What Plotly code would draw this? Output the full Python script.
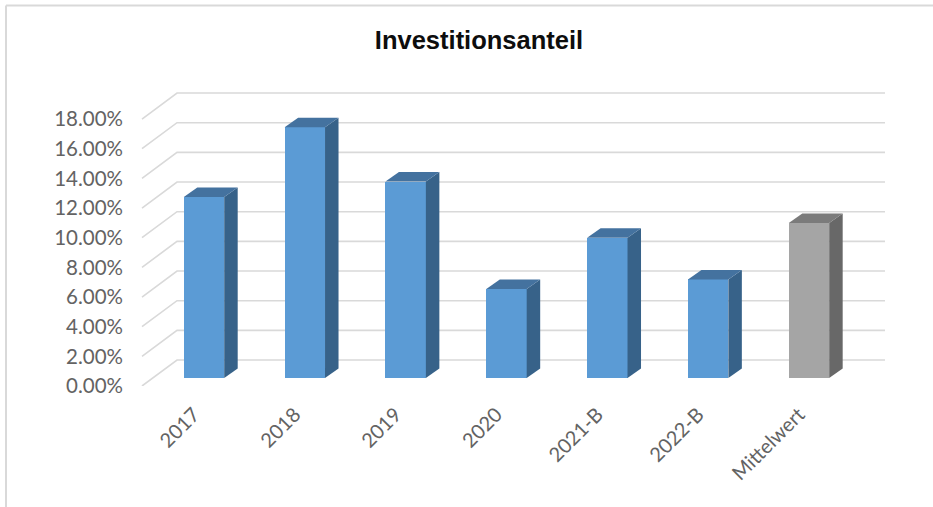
import plotly.graph_objects as go

categories = ["2017", "2018", "2019", "2020", "2021-B", "2022-B", "Mittelwert"]
values = [12.2, 16.9, 13.25, 6.0, 9.45, 6.65, 10.45]
y_ticks = [0, 2, 4, 6, 8, 10, 12, 14, 16, 18]
y_tick_labels = ["0.00%", "2.00%", "4.00%", "6.00%", "8.00%", "10.00%", "12.00%", "14.00%", "16.00%", "18.00%"]
front_colors = ["#5B9BD5"] * 6 + ["#A5A5A5"]
side_colors = ["#376289"] * 6 + ["#686868"]
top_colors = ["#44729F"] * 6 + ["#7B7B7B"]

W, H = 933, 507
PX_PER_CAT = 100.83
PX_PER_PCT = 14.83
X0 = 204.0
PLOT_L, PLOT_R, PLOT_T, PLOT_B = 140, 890, 85, 386
BAR_W = 40.4 / PX_PER_CAT
BAR_BASE = 8 / PX_PER_PCT
BAR_DX = 13.5 / PX_PER_CAT
BAR_DY = 9.5 / PX_PER_PCT
FLOOR_L = (142 - X0) / PX_PER_CAT
BACK_L = (177 - X0) / PX_PER_CAT
BACK_R = (885 - X0) / PX_PER_CAT
BACK_DY = 26 / PX_PER_PCT
LABEL_SHIFT = 10 / PX_PER_CAT
GRID = "#D9D9D9"
TEXT = "#636363"

xs = list(range(len(categories)))
fig = go.Figure()

fig.add_trace(go.Bar(x=xs, y=values, base=BAR_BASE, width=BAR_W,
                     marker=dict(color=front_colors, line=dict(width=0)),
                     showlegend=False, hoverinfo="skip"))

for x, v, sc, tc in zip(xs, values, side_colors, top_colors):
    r = x + BAR_W / 2
    l = x - BAR_W / 2
    top = BAR_BASE + v
    fig.add_trace(go.Scatter(
        x=[r, r + BAR_DX, r + BAR_DX, r, r],
        y=[BAR_BASE, BAR_BASE + BAR_DY, top + BAR_DY, top, BAR_BASE],
        mode="lines", fill="toself", fillcolor=sc, line=dict(width=0, color=sc),
        showlegend=False, hoverinfo="skip"))
    fig.add_trace(go.Scatter(
        x=[l, l + BAR_DX, r + BAR_DX, r, l],
        y=[top, top + BAR_DY, top + BAR_DY, top, top],
        mode="lines", fill="toself", fillcolor=tc, line=dict(width=0, color=tc),
        showlegend=False, hoverinfo="skip"))

shapes = []
for t in y_ticks:
    path = f"M {FLOOR_L} {t} L {BACK_L} {t + BACK_DY} L {BACK_R} {t + BACK_DY}"
    shapes.append(dict(type="path", xref="x", yref="y", path=path, layer="below",
                       line=dict(color=GRID, width=1.6)))
# outer frame fragments of the chart area
shapes.append(dict(type="line", xref="paper", yref="paper",
                   x0=-(PLOT_L - 6) / (PLOT_R - PLOT_L),
                   x1=(W - PLOT_L) / (PLOT_R - PLOT_L),
                   y0=(PLOT_B - 5.5) / (PLOT_B - PLOT_T), y1=(PLOT_B - 5.5) / (PLOT_B - PLOT_T),
                   line=dict(color=GRID, width=2)))
shapes.append(dict(type="line", xref="paper", yref="paper",
                   x0=-(PLOT_L - 6) / (PLOT_R - PLOT_L), x1=-(PLOT_L - 6) / (PLOT_R - PLOT_L),
                   y0=(PLOT_B - 5.5) / (PLOT_B - PLOT_T), y1=(PLOT_B - H) / (PLOT_B - PLOT_T),
                   line=dict(color=GRID, width=2)))

fig.update_layout(
    width=W, height=H, autosize=False,
    margin=dict(l=PLOT_L, r=W - PLOT_R, t=PLOT_T, b=H - PLOT_B, pad=0),
    paper_bgcolor="white", plot_bgcolor="white",
    shapes=shapes, bargap=0,
    title=dict(text="<b>Investitionsanteil</b>", x=479 / W, xanchor="center",
               y=1 - 40 / H, yanchor="middle",
               font=dict(family="Liberation Sans", size=25.5, color="#0D0D0D")),
    xaxis=dict(range=[(PLOT_L - X0) / PX_PER_CAT, (PLOT_R - X0) / PX_PER_CAT],
               tickmode="array", tickvals=[x - LABEL_SHIFT for x in xs], ticktext=categories,
               tickangle=-45,
               showgrid=False, zeroline=False, showline=False, ticks="",
               ticklabelstandoff=12,
               tickfont=dict(family="Lato", size=20, color=TEXT)),
    yaxis=dict(range=[0, (PLOT_B - PLOT_T) / PX_PER_PCT],
               tickmode="array", tickvals=y_ticks, ticktext=y_tick_labels,
               showgrid=False, zeroline=False, showline=False, ticks="",
               ticklabelstandoff=16,
               tickfont=dict(family="Lato", size=20.5, color=TEXT)),
)
fig.write_html("out.html", post_script="document.body.style.margin='0';",
               config=dict(displayModeBar=False))
